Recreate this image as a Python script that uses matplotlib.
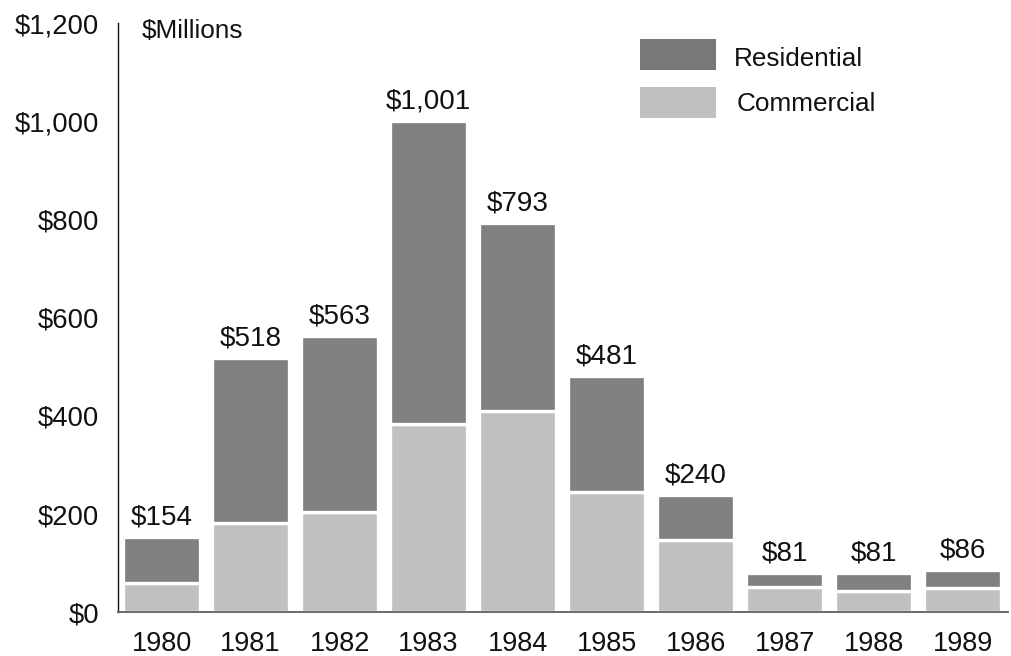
import matplotlib
matplotlib.use("Agg")
import matplotlib.pyplot as plt
from matplotlib.patches import Rectangle

years = ["1980", "1981", "1982", "1983", "1984", "1985", "1986", "1987", "1988", "1989"]
totals = [154, 518, 563, 1001, 793, 481, 240, 81, 81, 86]
commercial = [59, 181, 205, 384, 410, 245, 147, 51, 43, 50]
residential = [95, 337, 358, 617, 383, 236, 93, 30, 38, 36]
yticks = [0, 200, 400, 600, 800, 1000, 1200]
ytick_labels = ["$0", "$200", "$400", "$600", "$800", "$1,000", "$1,200"]

plt.rcParams['font.family'] = ['Liberation Sans', 'DejaVu Sans']
TXT = "#111111"
DARK = "#808080"
LIGHT = "#c0c0c0"

fig = plt.figure(figsize=(10.11, 6.56), dpi=100)
ax = fig.add_axes([118/1011, 1 - 612.3/656, (1008-118)/1011, 589/656])

x = list(range(len(years)))
ax.bar(x, commercial, width=0.857, color=LIGHT, edgecolor="white", linewidth=2.4, zorder=2)
ax.bar(x, residential, bottom=commercial, width=0.857, color=DARK, edgecolor="white", linewidth=2.4, zorder=2)

for xi, t in zip(x, totals):
    ax.annotate(f"${t:,}", xy=(xi, t), xytext=(0, 4.5), textcoords="offset points",
                ha="center", va="bottom", fontsize=20, color=TXT)

ax.set_xlim(-0.49, 9.51)
ax.set_ylim(0, 1200)
ax.set_yticks(yticks)
ax.set_yticklabels(ytick_labels)
ax.set_xticks(x)
ax.set_xticklabels(years)
ax.tick_params(axis="y", length=0, pad=13.5, labelsize=19.8, labelcolor=TXT)
ax.tick_params(axis="x", length=0, pad=13.5, labelsize=19.5, labelcolor=TXT)

for s in ["top", "right"]:
    ax.spines[s].set_visible(False)
ax.spines["left"].set_color("#111111")
ax.spines["left"].set_linewidth(1.0)
ax.spines["bottom"].set_color("#606060")
ax.spines["bottom"].set_linewidth(1.3)
ax.spines["bottom"].set_zorder(3)

fig.text(142/1011, 1 - 31/656, "$Millions", fontsize=18.8, color=TXT, ha="left", va="center")

# legend
fig.patches.append(Rectangle((640/1011, 1 - 70/656), 76/1011, 31/656,
                             transform=fig.transFigure, facecolor="#787878", edgecolor="none"))
fig.patches.append(Rectangle((640/1011, 1 - 117.7/656), 76/1011, 31/656,
                             transform=fig.transFigure, facecolor=LIGHT, edgecolor="none"))
fig.text(734/1011, 1 - 59/656, "Residential", fontsize=18.8, color=TXT, ha="left", va="center")
fig.text(737/1011, 1 - 104/656, "Commercial", fontsize=18.8, color=TXT, ha="left", va="center")

fig.savefig("out.png", dpi=100)
